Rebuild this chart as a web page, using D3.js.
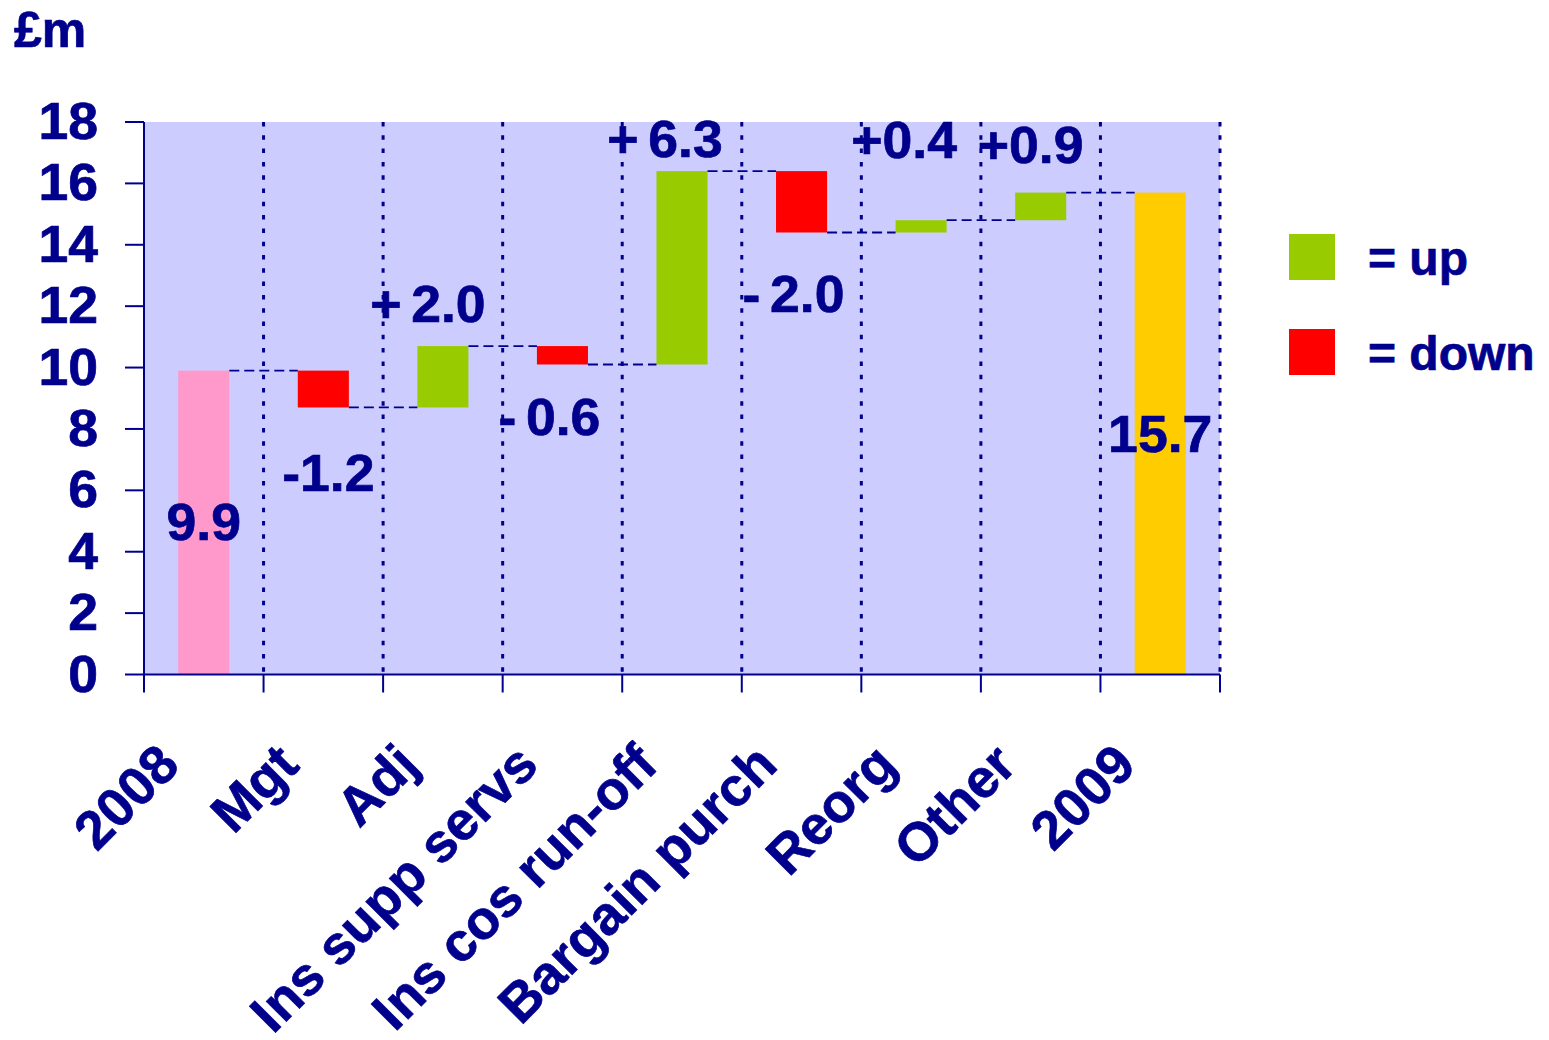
<!DOCTYPE html>
<html>
<head>
<meta charset="utf-8">
<script src="https://cdn.jsdelivr.net/npm/d3@7"></script>
<style>
  html, body { margin: 0; padding: 0; background: #ffffff; }
  svg { display: block; }
  text { font-family: "Liberation Sans", Arial, Helvetica, sans-serif; font-weight: bold;
         fill: #00008c; stroke: #00008c; stroke-width: 0.7px; }
</style>
</head>
<body>
<svg id="chart" width="1549" height="1040"></svg>
<script>
// Profit bridge, 2008 to 2009 (£m)
const categories = ["2008", "Mgt", "Adj", "Ins supp servs", "Ins cos run-off",
                    "Bargain purch", "Reorg", "Other", "2009"];
const amounts = [9.9, -1.2, 2.0, -0.6, 6.3, -2.0, 0.4, 0.9, 15.7];
const barKinds = ["start", "step", "step", "step", "step", "step", "step", "step", "end"];
const valueLabels = ["9.9", "-1.2", "+ 2.0", "- 0.6", "+ 6.3", "- 2.0", "+0.4", "+0.9", "15.7"];
const yTicks = [0, 2, 4, 6, 8, 10, 12, 14, 16, 18];
const legendItems = ["= up", "= down"];

// Label placement: horizontal nudge from the band centre (px) and baseline level (£m)
const labelDx = [0, 5, -15, -13, -17, -8, -17, -10, 0];
const labelLevel = [4.39, 5.99, 11.49, 7.81, 16.86, 11.82, 16.83, 16.67, 7.26];

const colors = { start: "#ff99cc", end: "#ffcc00", up: "#99cc00", down: "#ff0000" };
const navy = "#00008c";
const digitStretch = 1.05;

const svg = d3.select("#chart");

const plot = { left: 144, right: 1220, top: 122, bottom: 674.5 };

const x = d3.scaleBand()
  .domain(categories)
  .range([plot.left, plot.right])
  .paddingInner(0.573)
  .paddingOuter(0.573 / 2);

const y = d3.scaleLinear().domain([0, 18]).range([plot.bottom, plot.top]);

// running totals for the floating bars
let level = 0;
const bars = categories.map((c, i) => {
  const kind = barKinds[i];
  let lo, hi, fill;
  if (kind === "start" || kind === "end") {
    lo = 0; hi = amounts[i]; level = amounts[i];
    fill = colors[kind];
  } else {
    const from = level, to = level + amounts[i];
    lo = Math.min(from, to); hi = Math.max(from, to);
    level = to;
    fill = amounts[i] >= 0 ? colors.up : colors.down;
  }
  return { cat: c, lo, hi, end: level, fill, i };
});

const step = x.step();
const boundaries = d3.range(categories.length + 1).map(k => plot.left + k * step);

// plot background
svg.append("rect")
  .attr("x", plot.left).attr("y", plot.top)
  .attr("width", plot.right - plot.left).attr("height", plot.bottom - plot.top)
  .attr("fill", "#ccccff");

// dotted separators between categories
svg.append("g").selectAll("line")
  .data(boundaries.slice(1))
  .join("line")
  .attr("x1", d => d).attr("x2", d => d)
  .attr("y1", plot.top).attr("y2", plot.bottom)
  .attr("stroke", navy).attr("stroke-width", 3)
  .attr("stroke-dasharray", "4.5,8.8");

// bars
svg.append("g").selectAll("rect")
  .data(bars)
  .join("rect")
  .attr("x", d => x(d.cat))
  .attr("width", x.bandwidth())
  .attr("y", d => y(d.hi))
  .attr("height", d => y(d.lo) - y(d.hi))
  .attr("fill", d => d.fill);

// dashed connectors between consecutive bars
svg.append("g").selectAll("line")
  .data(bars.slice(0, -1))
  .join("line")
  .attr("x1", d => x(d.cat) + x.bandwidth())
  .attr("x2", d => x(categories[d.i + 1]))
  .attr("y1", d => y(d.end)).attr("y2", d => y(d.end))
  .attr("stroke", navy).attr("stroke-width", 1.8)
  .attr("stroke-dasharray", "10,5");

// y axis
const yAxis = svg.append("g");
yAxis.append("line")
  .attr("x1", plot.left).attr("x2", plot.left)
  .attr("y1", plot.top).attr("y2", plot.bottom)
  .attr("stroke", navy).attr("stroke-width", 2);
yAxis.selectAll("line.tick")
  .data(yTicks)
  .join("line").attr("class", "tick")
  .attr("x1", plot.left - 19).attr("x2", plot.left)
  .attr("y1", d => y(d)).attr("y2", d => y(d))
  .attr("stroke", navy).attr("stroke-width", 2);
yAxis.selectAll("text")
  .data(yTicks)
  .join("text")
  .attr("text-anchor", "end")
  .attr("font-size", 51)
  .attr("transform", d => `translate(98,${y(d) + 17}) scale(${digitStretch},1)`)
  .text(d => d);

// x axis
const xAxis = svg.append("g");
xAxis.append("line")
  .attr("x1", plot.left).attr("x2", plot.right)
  .attr("y1", plot.bottom).attr("y2", plot.bottom)
  .attr("stroke", navy).attr("stroke-width", 2);
xAxis.selectAll("line.tick")
  .data(boundaries)
  .join("line").attr("class", "tick")
  .attr("x1", d => d).attr("x2", d => d)
  .attr("y1", plot.bottom).attr("y2", plot.bottom + 18)
  .attr("stroke", navy).attr("stroke-width", 2);
xAxis.selectAll("text")
  .data(categories)
  .join("text")
  .attr("text-anchor", "end")
  .attr("font-size", 54)
  .attr("transform", d => `translate(${x(d) + x.bandwidth() / 2 - 22},${plot.bottom + 93}) rotate(-45)`)
  .text(d => d);

// unit label
svg.append("text")
  .attr("x", 14).attr("y", 47)
  .attr("font-size", 50)
  .text("£m");

// value labels
svg.append("g").selectAll("text")
  .data(bars)
  .join("text")
  .attr("text-anchor", "middle")
  .attr("font-size", 51)
  .style("word-spacing", "-5px")
  .attr("transform", d => `translate(${x(d.cat) + x.bandwidth() / 2 + labelDx[d.i]},${y(labelLevel[d.i])}) scale(${digitStretch},1)`)
  .text(d => valueLabels[d.i]);

// legend
const legend = svg.append("g");
const legendColors = [colors.up, colors.down];
legend.selectAll("rect")
  .data(legendItems)
  .join("rect")
  .attr("x", 1289).attr("y", (d, i) => 234 + i * 95)
  .attr("width", 46).attr("height", 46)
  .attr("fill", (d, i) => legendColors[i]);
legend.selectAll("text")
  .data(legendItems)
  .join("text")
  .attr("x", 1368).attr("y", (d, i) => 275 + i * 95)
  .attr("font-size", 48)
  .text(d => d);
</script>
</body>
</html>
